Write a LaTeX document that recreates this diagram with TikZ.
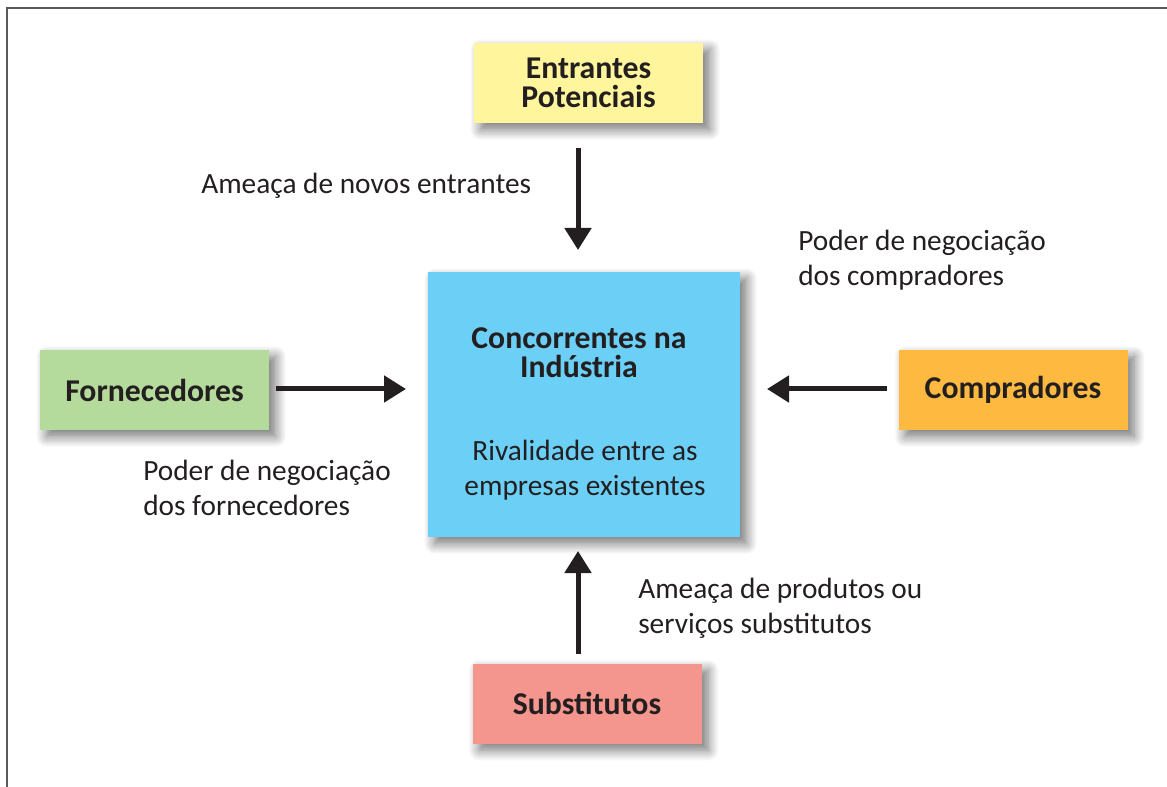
\documentclass[tikz,border=0pt]{standalone}
\usepackage{fontspec}
\setmainfont{Carlito}
\usetikzlibrary{arrows.meta,shadows.blur}
\definecolor{txt}{HTML}{231F20}
\definecolor{cyel}{HTML}{FFF59D}
\definecolor{cblue}{HTML}{6BCFF6}
\definecolor{cgreen}{HTML}{B5DB9C}
\definecolor{corange}{HTML}{FDB940}
\definecolor{cred}{HTML}{F4958E}
\definecolor{frame}{HTML}{5A5A5A}
\tikzset{
  box/.style={draw=none, minimum width=229*0.75pt, minimum height=80*0.75pt, inner sep=0pt,
    align=center, text=txt, font=\fontsize{23.8}{22}\selectfont\bfseries,
    blur shadow={shadow xshift=5pt, shadow yshift=-5pt, shadow blur steps=12, shadow blur radius=8pt, shadow opacity=55}},
  lbl/.style={anchor=west, align=left, text=txt, inner sep=0pt, font=\fontsize{22}{26}\selectfont},
  arr/.style={draw=txt, line width=3.75pt, -{Triangle[length=16.5pt,width=19.5pt]}}
}
\begin{document}
\begin{tikzpicture}[x=0.75pt,y=-0.75pt]
\useasboundingbox (0,0) rectangle (1167,787);
\begin{scope}
\clip (0,0) rectangle (1167,787);
\draw[frame, line width=1.6pt] (7,8) rectangle (1180,800);
\end{scope}
\node[box, fill=cyel] (ent) at (588.5,83) {Entrantes\\Potenciais};
\node[box, fill=cblue, minimum width=312*0.75pt, minimum height=265*0.75pt] (conc) at (584,404.5) {};
\node[align=center, text=txt, font=\fontsize{23.8}{22}\selectfont\bfseries] (conct) at (579,353) {Concorrentes na\\Indústria};
\node[align=center, text=txt, font=\fontsize{22}{26}\selectfont] (riv) at (585,470) {Rivalidade entre as\\empresas existentes};
\node[box, fill=cgreen] (forn) at (154.5,390) {Fornecedores};
\node[box, fill=corange] (comp) at (1013,390) {Compradores};
\node[box, fill=cred] (subs) at (587,703.5) {Substitutos};
\coordinate (a1s) at (578,148); \coordinate (a1e) at (578,250);
\coordinate (a2s) at (276,389); \coordinate (a2e) at (406,389);
\coordinate (a3s) at (887,389); \coordinate (a3e) at (767,389);
\coordinate (a4s) at (578,654); \coordinate (a4e) at (578,551);
\draw[arr] (a1s) -- (a1e);
\draw[arr] (a2s) -- (a2e);
\draw[arr] (a3s) -- (a3e);
\draw[arr] (a4s) -- (a4e);
\node[lbl] (l1) at (201,186) {Ameaça de novos entrantes};
\node[lbl] (l2) at (798,260) {Poder de negociação\\dos compradores};
\node[lbl] (l3) at (143,488) {Poder de negociação\\dos fornecedores};
\node[lbl] (l4) at (638,608.5) {Ameaça de produtos ou\\serviços substitutos};
\end{tikzpicture}
\end{document}
